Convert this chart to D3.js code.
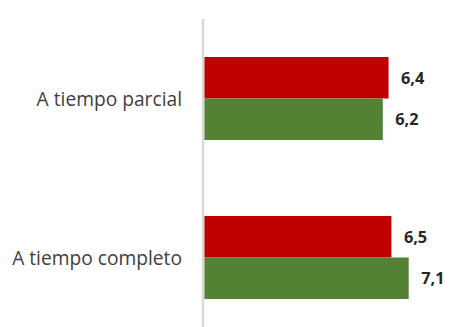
<!DOCTYPE html>
<html>
<head>
<meta charset="utf-8">
<script src="https://cdn.jsdelivr.net/npm/d3@7"></script>
<style>
  html, body { margin: 0; padding: 0; background: #ffffff; }
  svg { display: block; }
</style>
</head>
<body>
<div id="chart"></div>
<script>
const categories = ["A tiempo parcial", "A tiempo completo"];
const seriesNames = ["Serie 1", "Serie 2"];
const serie1 = [6.4, 6.5];
const serie2 = [6.2, 7.1];
const seriesColors = ["#C00000", "#548235"];

const W = 449, H = 327;
const svg = d3.select("#chart").append("svg").attr("width", W).attr("height", H);

const x0 = 204.3, plotTop = 19, plotBottom = 337;
const x = d3.scaleLinear().domain([0, 7.1]).range([x0, 408.7]);
const y0 = d3.scaleBand().domain(categories).range([plotTop, plotBottom])
  .paddingInner(0.478).paddingOuter(0.239);
const y1 = d3.scaleBand().domain(seriesNames).range([0, y0.bandwidth()]).padding(0);

const data = categories.map((c, i) => ({
  cat: c,
  vals: [ {s: seriesNames[0], v: serie1[i], c: seriesColors[0]},
          {s: seriesNames[1], v: serie2[i], c: seriesColors[1]} ]
}));

const fmt = v => d3.format(".1f")(v).replace(".", ",");

const g = svg.selectAll("g.cat").data(data).join("g")
  .attr("class", "cat")
  .attr("transform", d => `translate(0,${y0(d.cat)})`);

g.selectAll("rect").data(d => d.vals).join("rect")
  .attr("x", x(0))
  .attr("y", d => y1(d.s))
  .attr("width", d => x(d.v) - x(0))
  .attr("height", y1.bandwidth())
  .attr("fill", d => d.c);

g.selectAll("text.val").data(d => d.vals).join("text")
  .attr("class", "val")
  .attr("x", d => x(d.v) + 12.5)
  .attr("y", d => y1(d.s) + y1.bandwidth() / 2 + 6)
  .attr("font-family", "'Open Sans', sans-serif")
  .attr("font-weight", "bold")
  .attr("font-size", "16.3px")
  .attr("fill", "#262626")
  .text(d => fmt(d.v));

// category axis (left)
const yAxis = d3.axisLeft(y0).tickSize(0).tickPadding(0);
const ax = svg.append("g").attr("transform", `translate(${182},0)`).call(yAxis);
ax.select(".domain").remove();
ax.selectAll("text")
  .attr("font-family", "'Open Sans', sans-serif")
  .attr("font-size", "19.2px")
  .attr("fill", "#404040")
  .attr("dy", null)
  .attr("dominant-baseline", "central");

// vertical axis line
svg.append("line")
  .attr("x1", 203).attr("x2", 203)
  .attr("y1", plotTop).attr("y2", H)
  .attr("stroke", "#d9d9d9").attr("stroke-width", 2.5);
</script>
</body>
</html>
